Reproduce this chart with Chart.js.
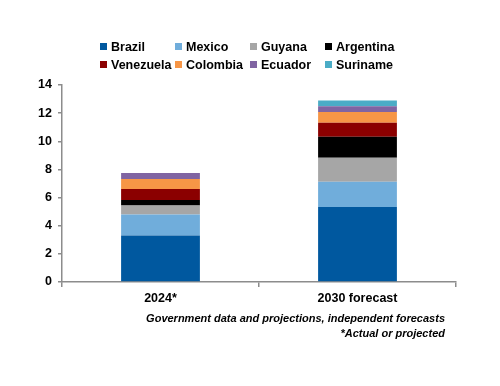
<!DOCTYPE html>
<html lang="en">
<head>
    <meta charset="UTF-8">
    <title>Oil production</title>
    <style>
        body { margin: 0; background: #fff; font-family: "Liberation Sans", Arial, sans-serif; }
        .wrap { position: relative; width: 500px; height: 386px; }
        #legend { position: absolute; left: 100px; top: 39px; width: 330px; }
        .item { position: absolute; font-size: 12.5px; font-weight: bold; color: #000; white-space: nowrap; line-height: 16px; }
        .item span.box { display: inline-block; width: 7px; height: 7px; margin-right: 4px; vertical-align: 1px; }
        #note { position: absolute; right: 55px; top: 311px; text-align: right; font-size: 11px; font-style: italic; font-weight: bold; line-height: 15px; color: #000; }
    </style>
</head>
<body>
<div class="wrap">
    <canvas id="barChart" width="500" height="386"></canvas>
    <div id="legend"></div>
    <div id="note">Government data and projections, independent forecasts<br>*Actual or projected</div>
</div>

<script src="https://cdn.jsdelivr.net/npm/chart.js@4.4.1/dist/chart.umd.min.js"></script>
<script>
    var years = ["2024*", "2030 forecast"];
    var countries = ["Brazil", "Mexico", "Guyana", "Argentina", "Venezuela", "Colombia", "Ecuador", "Suriname"];
    var colors = ["#00589F", "#70ADDB", "#A6A6A6", "#000000", "#8B0000", "#F79646", "#8064A2", "#4BACC6"];

    // million b/d
    var brazil    = [3.3, 5.33];
    var mexico    = [1.49, 1.8];
    var guyana    = [0.64, 1.7];
    var argentina = [0.4, 1.49];
    var venezuela = [0.78, 0.99];
    var colombia  = [0.71, 0.78];
    var ecuador   = [0.42, 0.4];
    var suriname  = [0, 0.4];

    var series = [brazil, mexico, guyana, argentina, venezuela, colombia, ecuador, suriname];
    var yTicks = [0, 2, 4, 6, 8, 10, 12, 14];

    var datasets = countries.map(function(c, i) {
        return {
            label: c,
            data: series[i],
            backgroundColor: colors[i],
            borderWidth: 0,
            categoryPercentage: 1,
            barPercentage: 0.4
        };
    });

    // legend in 4 fixed columns like the original
    var legend = document.getElementById("legend");
    countries.forEach(function(c, i) {
        var d = document.createElement("div");
        d.className = "item";
        d.style.left = (i % 4) * 75 + "px";
        d.style.top = Math.floor(i / 4) * 18 + "px";
        d.innerHTML = '<span class="box" style="background:' + colors[i] + '"></span>' + c;
        legend.appendChild(d);
    });

    var axisColor = "#8c8c8c";
    var ctx = document.getElementById("barChart").getContext("2d");
    var chart = new Chart(ctx, {
        type: "bar",
        data: { labels: years, datasets: datasets },
        options: {
            responsive: false,
            animation: false,
            layout: { padding: { top: 85, right: 44, left: 0, bottom: 0 } },
            plugins: { legend: { display: false }, tooltip: { enabled: false } },
            scales: {
                x: {
                    stacked: true,
                    grid: { offset: true, drawOnChartArea: false, drawTicks: true, tickLength: 5, color: axisColor, lineWidth: 1.5 },
                    border: { color: axisColor, width: 1.5 },
                    ticks: { color: "#000", font: { family: "Liberation Sans", size: 12.5, weight: "bold" }, padding: 4 },
                    afterFit: function(s) { s.height = 104; }
                },
                y: {
                    stacked: true,
                    min: 0,
                    max: 14,
                    afterBuildTicks: function(s) { s.ticks = yTicks.map(function(v) { return { value: v }; }); },
                    grid: { drawOnChartArea: false, drawTicks: true, tickLength: 4, color: axisColor, lineWidth: 1.5 },
                    border: { color: axisColor, width: 1.5 },
                    ticks: { color: "#000", font: { family: "Liberation Sans", size: 12.5, weight: "bold" }, padding: 6 },
                    afterFit: function(s) { s.width = 62; }
                }
            }
        }
    });
</script>
</body>
</html>
